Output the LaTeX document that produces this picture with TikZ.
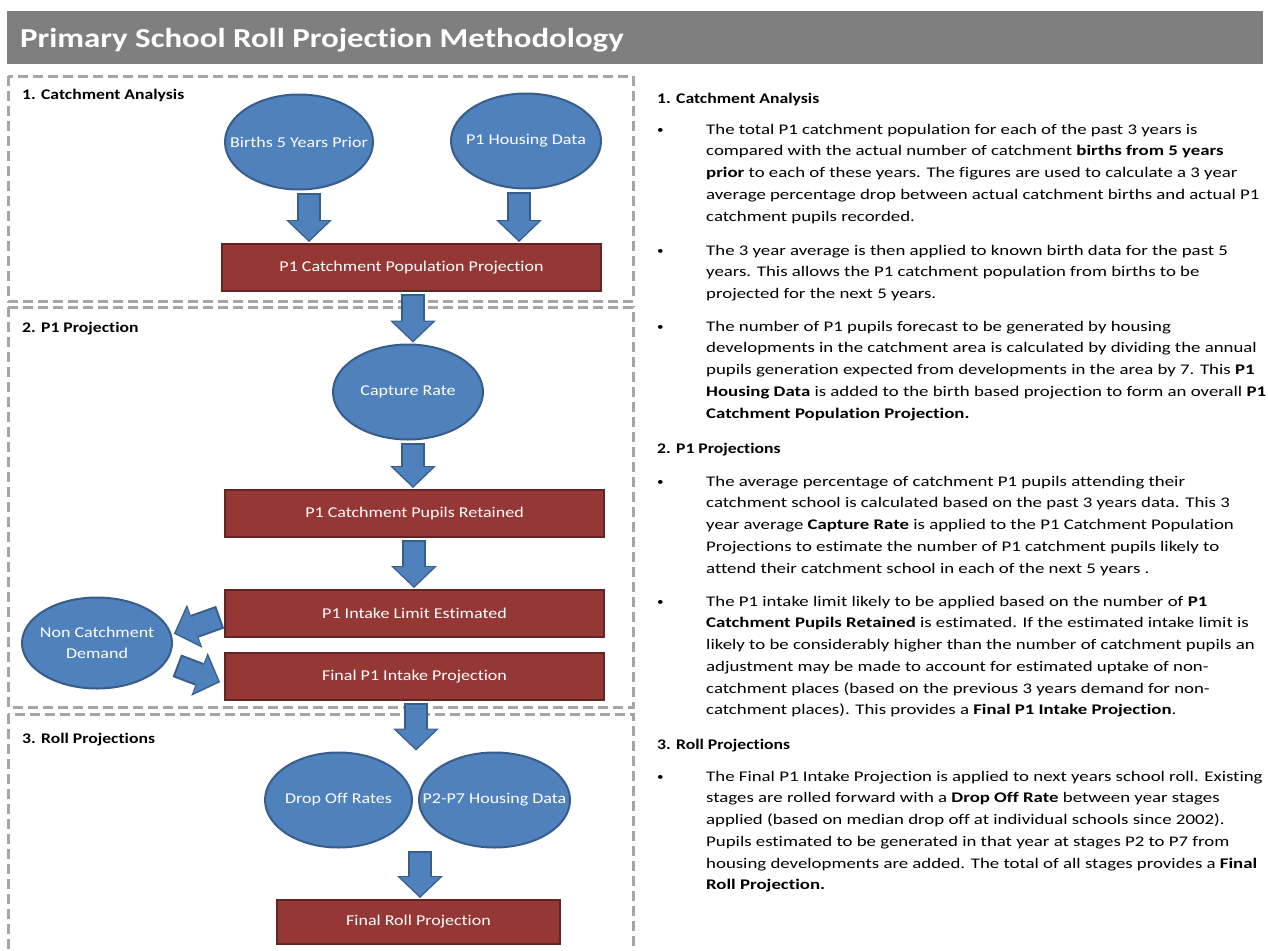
\documentclass[tikz,border=0pt]{standalone}
\usepackage{fontspec}
\setmainfont{Carlito}[FakeStretch=1.2, Ligatures={NoCommon}]
\newfontfamily\bodyfont{Carlito}[FakeStretch=1.28, Ligatures={NoCommon}]
\usetikzlibrary{shapes.geometric,arrows.meta,positioning}

\definecolor{titlegray}{HTML}{7F7F7F}
\definecolor{boxgray}{HTML}{A6A6A6}
\definecolor{ovalblue}{HTML}{4F81BD}
\definecolor{ovalline}{HTML}{385D8A}
\definecolor{stepred}{HTML}{953735}
\definecolor{stepline}{HTML}{632523}

\tikzset{
  oval/.style={ellipse, fill=ovalblue, draw=ovalline, line width=2pt, text=white,
    minimum width=150pt, minimum height=95pt, inner xsep=-25pt, inner ysep=0pt, align=center,
    font=\fontsize{15}{21}\selectfont},
  stepbox/.style={rectangle, fill=stepred, draw=stepline, line width=2pt, text=white,
    minimum width=379pt, minimum height=47pt, font=\fontsize{15}{18}\selectfont},
  bigarrow/.style={draw=ovalblue, line width=20pt,
    -{Triangle[length=19pt,width=40pt,line width=0pt 0 0]},
    shorten <=4pt, shorten >=3pt,
    preaction={draw=ovalline, line width=24pt,
      -{Triangle[length=22pt,width=46pt,line width=0pt 0 0]},
      shorten <=2pt, shorten >=1pt}},
  stagebox/.style={draw=boxgray, line width=3pt, dash pattern=on 10pt off 5pt},
  stagelabel/.style={anchor=base west, inner sep=0pt,
    font=\bfseries\fontsize{14.7}{18}\selectfont},
  bodytext/.style={anchor=north west, align=left, inner sep=0pt,
    font=\bodyfont\fontsize{14.7}{21.75}\selectfont},
  dot/.style={anchor=base west, inner sep=0pt, font=\fontsize{11}{14}\selectfont}
}

\begin{document}
\begin{tikzpicture}[x=1pt,y=-1pt]
  \useasboundingbox (0,0) rectangle (1268,950);
  % title bar
  \fill[titlegray] (7,11) rectangle (1263,64);
  \node[anchor=base west, inner sep=0pt, text=white, font=\bfseries\fontsize{27.4}{30}\selectfont]
    (title) at (20,48) {Primary School Roll Projection Methodology};
  % dashed stage frames
  \draw[stagebox] (8,76) rectangle (633,301);
  \draw[stagebox] (8,307) rectangle (633,707);
  \draw[stagebox] (8,714) rectangle (633,960);
  \node[stagelabel] (lab1) at (22,99) {1. Catchment Analysis};
  \node[stagelabel] (lab2) at (22,332) {2. P1 Projection};
  \node[stagelabel] (lab3) at (22,743) {3. Roll Projections};

  % stage 1
  \node[oval, minimum width=148pt] (births) at (299,142) {Births 5 Years Prior};
  \node[oval] (housing) at (526,141) {P1 Housing Data};
  \node[stepbox] (catchpop) at (411.5,267.5) {P1 Catchment Population Projection};
  \draw[bigarrow] ([xshift=10pt]births.south) -- ([xshift=10pt]births.south |- catchpop.north);
  \draw[bigarrow] ([xshift=-7pt]housing.south) -- ([xshift=-7pt]housing.south |- catchpop.north);

  % stage 2
  \node[oval] (capture) at (408,392) {Capture Rate};
  \node[stepbox] (retained) at (414.5,513.5) {P1 Catchment Pupils Retained};
  \node[stepbox] (intake) at (414.5,613.5) {P1 Intake Limit Estimated};
  \node[stepbox] (finalpone) at (414.5,676.5) {Final P1 Intake Projection};
  \node[oval, minimum height=91pt] (noncatch) at (97,643) {Non Catchment\\Demand};
  \draw[bigarrow] ([xshift=1.5pt]catchpop.south) -- ([xshift=1.5pt]catchpop.south |- capture.north);
  \draw[bigarrow] ([xshift=5pt]capture.south) -- ([xshift=5pt]capture.south |- retained.north);
  \draw[bigarrow] ([xshift=-0.5pt]retained.south) -- ([xshift=-0.5pt]retained.south |- intake.north);
  \draw[bigarrow] ([xshift=-2pt,yshift=-3pt]intake.west) -- ([yshift=9pt]noncatch.east);
  \draw[bigarrow] ([xshift=2pt,yshift=-22pt]noncatch.east) -- ([xshift=-3pt,yshift=-6pt]finalpone.west);

  % stage 3
  \node[oval, minimum width=147pt] (dropoff) at (338.5,800) {Drop Off Rates};
  \node[oval, minimum width=151pt] (housingtwo) at (494.5,800) {P2-P7 Housing Data};
  \node[stepbox, minimum width=283pt, minimum height=44pt] (finalroll) at (418.5,922) {Final Roll Projection};
  \draw[bigarrow] ([xshift=1.5pt]finalpone.south) -- ([xshift=1.5pt]finalpone.south |- dropoff.north);
  \draw[bigarrow] ([xshift=1.5pt]finalroll.north |- dropoff.south) -- ([xshift=1.5pt]finalroll.north);

  % explanatory text
  \node[stagelabel] (head1) at (657,103) {1. Catchment Analysis};
  \node[dot] at (657,133) {\textbullet};
  \node[bodytext] (para1) at (706,118.8) {\strut The total P1 catchment population for  each of the past 3 years  is\\
    compared with the actual number of  catchment \textbf{births  from 5 years}\\
    \textbf{prior} to each of these years.  The figures are used to calculate a 3 year\\
    average percentage drop between actual catchment births and actual P1\\
    catchment pupils recorded.};
  \node[dot] at (657,254) {\textbullet};
  \node[bodytext] (para2) at (706,239.8) {\strut The 3 year average is then applied to known birth data for the past 5\\
    years.  This allows the P1 catchment population from births to be\\
    projected for the next 5 years.};
  \node[dot] at (657,330) {\textbullet};
  \node[bodytext] (para3) at (706,315.8) {\strut The number of P1 pupils forecast to be generated by housing\\
    developments in the catchment area  is calculated by dividing the annual\\
    pupils generation expected from developments in the area by 7.   This \textbf{P1}\\
    \textbf{Housing Data} is added to the birth based projection to form an overall \textbf{P1}\\
    \textbf{Catchment Population  Projection.}};

  \node[stagelabel] (head2) at (657,453) {2. P1 Projections};
  \node[dot] at (657,485) {\textbullet};
  \node[bodytext] (para4) at (706,470.8) {\strut The average percentage of catchment P1 pupils  attending  their\\
    catchment school  is calculated based on the past 3 years data.  This 3\\
    year average \textbf{Capture Rate} is applied to the P1 Catchment  Population\\
    Projections to estimate  the number of P1 catchment pupils likely to\\
    attend their catchment school in each of the next 5 years .};
  \node[dot] at (657,605) {\textbullet};
  \node[bodytext] (para5) at (706,590.8) {\strut The  P1 intake limit likely to be applied based on the number of \textbf{P1}\\
    \textbf{Catchment Pupils  Retained} is estimated.  If the estimated intake limit is\\
    likely to be considerably higher than the number of catchment pupils an\\
    adjustment may be made to account for  estimated uptake of non-\\
    catchment places (based on the previous 3 years  demand for non-\\
    catchment places).  This provides a \textbf{Final P1 Intake Projection}.};

  \node[stagelabel] (head3) at (657,749) {3. Roll Projections};
  \node[dot] at (657,780) {\textbullet};
  \node[bodytext] (para6) at (706,765.8) {\strut The Final P1 Intake Projection is applied to next years school roll.  Existing\\
    stages are rolled forward with a \textbf{Drop Off Rate} between year stages\\
    applied (based on median drop off at individual schools since 2002).\\
    Pupils  estimated to be generated in that year at stages P2 to P7 from\\
    housing developments are added.  The total of all stages provides  a \textbf{Final}\\
    \textbf{Roll Projection.}};
\end{tikzpicture}
\end{document}
